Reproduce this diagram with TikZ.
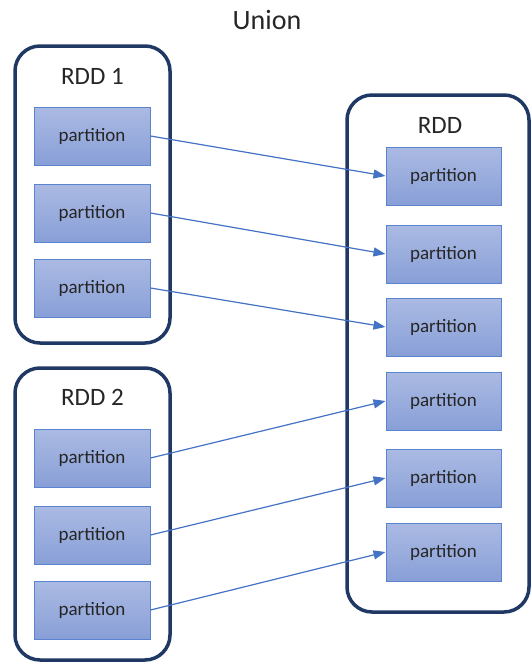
\documentclass[tikz,border=0pt]{standalone}
\usepackage{fontspec}
\setmainfont{Carlito}
\usetikzlibrary{arrows.meta}
\definecolor{frame}{HTML}{203864}
\definecolor{partedge}{HTML}{5B84D0}
\definecolor{parttop}{HTML}{ABBAE3}
\definecolor{partbot}{HTML}{889FD7}
\definecolor{link}{HTML}{4472C4}
\definecolor{ink}{HTML}{262626}
\tikzset{
  container/.style={draw=frame, line width=3.5pt, rounded corners=25pt, fill=white},
  part/.style={draw=partedge, line width=1pt, top color=parttop, bottom color=partbot,
    minimum width=116pt, minimum height=58pt, inner sep=0pt,
    text=ink, font=\fontsize{19}{22}\selectfont},
  rddlabel/.style={text=ink, font=\fontsize{25}{28}\selectfont, inner sep=0pt},
  flow/.style={draw=link, line width=1.2pt, -{Triangle[length=12pt,width=9pt]}}
}
\begin{document}
\begin{tikzpicture}[x=1pt,y=-1pt]
  \useasboundingbox (0,0) rectangle (531,662);

  % title
  \node[text=ink, font=\fontsize{28}{32}\selectfont, inner sep=0pt] (title) at (267,20) {Union};

  % containers
  \draw[container] (15,46) rectangle (170,343);
  \draw[container] (15,368) rectangle (170,660);
  \draw[container] (347,95) rectangle (529,612);

  \node[rddlabel] (l1) at (92.5,76) {RDD 1};
  \node[rddlabel] (l2) at (92.5,397) {RDD 2};
  \node[rddlabel] (l3) at (440,125) {RDD};

  % source partitions
  \node[part] (a1) at (92,136) {partition};
  \node[part] (a2) at (92,213) {partition};
  \node[part] (a3) at (92,288) {partition};
  \node[part] (b1) at (92,458) {partition};
  \node[part] (b2) at (92,535) {partition};
  \node[part] (b3) at (92,610) {partition};

  % union partitions
  \node[part, minimum width=115pt] (r1) at (443.5,176) {partition};
  \node[part, minimum width=115pt] (r2) at (443.5,254) {partition};
  \node[part, minimum width=115pt] (r3) at (443.5,327) {partition};
  \node[part, minimum width=115pt] (r4) at (443.5,401) {partition};
  \node[part, minimum width=115pt] (r5) at (443.5,478) {partition};
  \node[part, minimum width=115pt] (r6) at (443.5,552) {partition};

  % links
  \draw[flow] (a1.east) -- (r1.west);
  \draw[flow] (a2.east) -- (r2.west);
  \draw[flow] (a3.east) -- (r3.west);
  \draw[flow] (b1.east) -- (r4.west);
  \draw[flow] (b2.east) -- (r5.west);
  \draw[flow] (b3.east) -- (r6.west);
\end{tikzpicture}
\end{document}
